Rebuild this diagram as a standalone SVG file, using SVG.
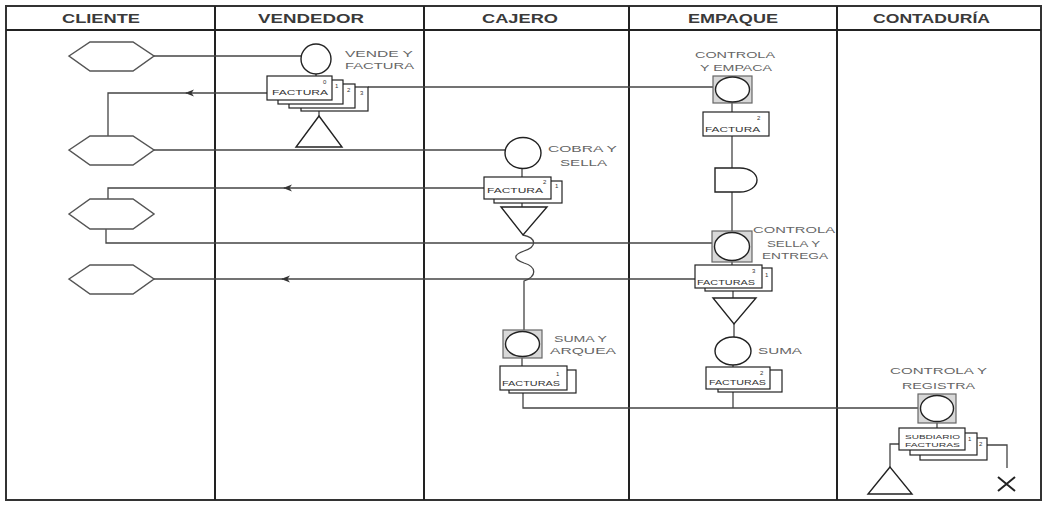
<svg xmlns="http://www.w3.org/2000/svg" width="1044" height="507" viewBox="0 0 1044 507">
<style>
.frame{fill:none;stroke:#333;stroke-width:2}
.lane{fill:none;stroke:#222;stroke-width:2}
.hdr{font-family:"Liberation Sans",Arial,sans-serif;font-weight:bold;font-size:13px;fill:#3a3a3a}
.lbl{font-family:"Liberation Sans",Arial,sans-serif;font-size:9.5px;fill:#666}
.doc{fill:#fff;stroke:#222;stroke-width:1.2}
.dtx{font-family:"Liberation Sans",Arial,sans-serif;font-size:7px;fill:#333}
.num{font-family:"Liberation Sans",Arial,sans-serif;font-size:6px;fill:#333}
.hex{fill:#fff;stroke:#555;stroke-width:1.5}
.shp{fill:#fff;stroke:#222;stroke-width:1.4}
.sq{fill:#d8d8d8;stroke:#666;stroke-width:1.2}
.con{fill:none;stroke:#444;stroke-width:1.3}
</style>
<defs>
<marker id="arr" markerWidth="10" markerHeight="8" refX="8" refY="4" orient="auto" markerUnits="userSpaceOnUse">
<path d="M9,4 L0,0.5 L2.5,4 L0,7.5 Z" fill="#333"/>
</marker>
</defs>
<rect width="1044" height="507" fill="#fff"/>
<g id="frame">
<rect class="frame" x="6" y="6" width="1035" height="494"/>
<line class="lane" x1="6" y1="30" x2="1041" y2="30"/>
<line class="lane" x1="215" y1="6" x2="215" y2="500"/>
<line class="lane" x1="424" y1="6" x2="424" y2="500"/>
<line class="lane" x1="629" y1="6" x2="629" y2="500"/>
<line class="lane" x1="837" y1="6" x2="837" y2="500"/>
<text class="hdr" x="62" y="23" textLength="78" lengthAdjust="spacingAndGlyphs">CLIENTE</text>
<text class="hdr" x="258" y="23" textLength="106" lengthAdjust="spacingAndGlyphs">VENDEDOR</text>
<text class="hdr" x="482" y="23" textLength="76" lengthAdjust="spacingAndGlyphs">CAJERO</text>
<text class="hdr" x="688" y="23" textLength="90" lengthAdjust="spacingAndGlyphs">EMPAQUE</text>
<text class="hdr" x="873" y="23" textLength="117" lengthAdjust="spacingAndGlyphs">CONTADURÍA</text>
</g>
<g id="connectors">
<path class="con" d="M154,56 H301"/>
<path class="con" d="M316,74 V76"/>
<path class="con" d="M267,93 H186" marker-end="url(#arr)"/>
<path class="con" d="M188,93 H108 V136"/>
<path class="con" d="M368,87 H713"/>
<path class="con" d="M319,111 V116"/>
<path class="con" d="M154,150 H505"/>
<path class="con" d="M522,168 V177"/>
<path class="con" d="M484,188 H284" marker-end="url(#arr)"/>
<path class="con" d="M286,188 H108 V199"/>
<path class="con" d="M522,203 V207"/>
<path class="con" d="M523,235 C537,238 537,247 524,251 C513,255 513,259 524,263 C537,267 537,276 524,281 V330"/>
<path class="con" d="M106,229 V243 H712"/>
<path class="con" d="M695,279 H282" marker-end="url(#arr)"/>
<path class="con" d="M284,279 H154"/>
<path class="con" d="M732,103 V112"/>
<path class="con" d="M732,136 V168"/>
<path class="con" d="M732,192 V231"/>
<path class="con" d="M732,262 V265"/>
<path class="con" d="M733,291 V298"/>
<path class="con" d="M734,324 V337"/>
<path class="con" d="M733,365 V367"/>
<path class="con" d="M733,392 V408"/>
<path class="con" d="M522,358 V366"/>
<path class="con" d="M523,393 V408 H918"/>
<path class="con" d="M937,423 V428"/>
<path class="con" d="M899,444 H890 V467"/>
<path class="con" d="M987,445 H1007 V468"/>
</g>
<g id="cliente-1"><polygon class="hex" points="69,56 90,42 133,42 154,56 133,71 90,71"/></g>
<g id="cliente-2"><polygon class="hex" points="69,150 90,136 133,136 154,150 133,165 90,165"/></g>
<g id="cliente-3"><polygon class="hex" points="69,214 90,199 133,199 154,214 133,229 90,229"/></g>
<g id="cliente-4"><polygon class="hex" points="69,279 90,265 133,265 154,279 133,294 90,294"/></g>
<g id="vende-factura">
<circle class="shp" cx="316" cy="59" r="15"/>
<text class="lbl" x="345" y="57" textLength="68" lengthAdjust="spacingAndGlyphs">VENDE Y</text>
<text class="lbl" x="345" y="69" textLength="69" lengthAdjust="spacingAndGlyphs">FACTURA</text>
</g>
<g id="vendedor-facturas">
<rect class="doc" x="301" y="87" width="67" height="24"/>
<rect class="doc" x="289" y="84" width="66" height="24"/>
<rect class="doc" x="278" y="80" width="65" height="24"/>
<rect class="doc" x="267" y="76" width="65" height="24"/>
<text class="num" x="323" y="84">0</text>
<text class="num" x="335" y="88">1</text>
<text class="num" x="347" y="92">2</text>
<text class="num" x="360" y="95">3</text>
<text class="dtx" x="272" y="95" textLength="56" lengthAdjust="spacingAndGlyphs">FACTURA</text>
</g>
<g id="vendedor-archivo"><polygon class="shp" points="319,116 296,147 342,147"/></g>
<g id="cobra-sella">
<ellipse class="shp" cx="523" cy="153" rx="18" ry="15.5"/>
<text class="lbl" x="548" y="152" textLength="69" lengthAdjust="spacingAndGlyphs">COBRA Y</text>
<text class="lbl" x="560" y="166" textLength="47" lengthAdjust="spacingAndGlyphs">SELLA</text>
</g>
<g id="cajero-factura">
<rect class="doc" x="494" y="181" width="68" height="22"/>
<rect class="doc" x="484" y="177" width="67" height="22"/>
<text class="num" x="543" y="184">2</text>
<text class="num" x="555" y="188">1</text>
<text class="dtx" x="487" y="193" textLength="56" lengthAdjust="spacingAndGlyphs">FACTURA</text>
</g>
<g id="cajero-archivo"><polygon class="shp" points="501,207 547,207 523,235"/></g>
<g id="suma-arquea">
<rect class="sq" x="503" y="330" width="39" height="28"/>
<ellipse class="shp" cx="522.5" cy="344" rx="17" ry="12.5"/>
<text class="lbl" x="554" y="342" textLength="53" lengthAdjust="spacingAndGlyphs">SUMA Y</text>
<text class="lbl" x="550" y="354" textLength="66" lengthAdjust="spacingAndGlyphs">ARQUEA</text>
</g>
<g id="cajero-facturas">
<rect class="doc" x="509" y="370" width="67" height="23"/>
<rect class="doc" x="500" y="366" width="67" height="24"/>
<text class="num" x="556" y="376">1</text>
<text class="dtx" x="502" y="386" textLength="58" lengthAdjust="spacingAndGlyphs">FACTURAS</text>
</g>
<g id="controla-empaca">
<text class="lbl" x="695" y="58" textLength="80" lengthAdjust="spacingAndGlyphs">CONTROLA</text>
<text class="lbl" x="700" y="71" textLength="72" lengthAdjust="spacingAndGlyphs">Y EMPACA</text>
<rect class="sq" x="713" y="76" width="39" height="27"/>
<ellipse class="shp" cx="732.5" cy="89.5" rx="17" ry="12.5"/>
</g>
<g id="empaque-factura">
<rect class="doc" x="703" y="112" width="66" height="24"/>
<text class="num" x="757" y="120">2</text>
<text class="dtx" x="705" y="132" textLength="55" lengthAdjust="spacingAndGlyphs">FACTURA</text>
</g>
<g id="empaque-demora"><path class="shp" d="M715,168 H740 A17,12 0 0 1 740,192 H715 Z"/></g>
<g id="controla-sella-entrega">
<rect class="sq" x="712" y="231" width="40" height="31"/>
<ellipse class="shp" cx="732" cy="246.5" rx="17.5" ry="14"/>
<text class="lbl" x="753" y="233" textLength="82" lengthAdjust="spacingAndGlyphs">CONTROLA</text>
<text class="lbl" x="767" y="247" textLength="53" lengthAdjust="spacingAndGlyphs">SELLA Y</text>
<text class="lbl" x="762" y="259" textLength="66" lengthAdjust="spacingAndGlyphs">ENTREGA</text>
</g>
<g id="empaque-facturas-1">
<rect class="doc" x="705" y="268" width="67" height="23"/>
<rect class="doc" x="695" y="265" width="67" height="23"/>
<text class="num" x="752" y="273">3</text>
<text class="num" x="765" y="277">1</text>
<text class="dtx" x="697" y="285" textLength="58" lengthAdjust="spacingAndGlyphs">FACTURAS</text>
</g>
<g id="empaque-archivo"><polygon class="shp" points="713,298 756,298 734,324"/></g>
<g id="suma">
<ellipse class="shp" cx="733" cy="351" rx="18" ry="14"/>
<text class="lbl" x="758" y="354" textLength="44" lengthAdjust="spacingAndGlyphs">SUMA</text>
</g>
<g id="empaque-facturas-2">
<rect class="doc" x="718" y="370" width="64" height="22"/>
<rect class="doc" x="706" y="367" width="64" height="22"/>
<text class="num" x="760" y="375">2</text>
<text class="dtx" x="709" y="385" textLength="57" lengthAdjust="spacingAndGlyphs">FACTURAS</text>
</g>
<g id="controla-registra">
<text class="lbl" x="890" y="374" textLength="97" lengthAdjust="spacingAndGlyphs">CONTROLA Y</text>
<text class="lbl" x="902" y="389" textLength="73" lengthAdjust="spacingAndGlyphs">REGISTRA</text>
<rect class="sq" x="918" y="394" width="38" height="29"/>
<ellipse class="shp" cx="937" cy="408.5" rx="16.5" ry="13"/>
</g>
<g id="subdiario">
<rect class="doc" x="920" y="438" width="67" height="22"/>
<rect class="doc" x="910" y="433" width="67" height="22"/>
<rect class="doc" x="899" y="428" width="66" height="22"/>
<text class="num" x="968" y="441">1</text>
<text class="num" x="979" y="446">2</text>
<text class="num" x="905" y="439" textLength="55" lengthAdjust="spacingAndGlyphs">SUBDIARIO</text>
<text class="num" x="905" y="447" textLength="55" lengthAdjust="spacingAndGlyphs">FACTURAS</text>
</g>
<g id="contaduria-archivo"><polygon class="shp" points="890,467 868,494 912,494"/></g>
<g id="destruccion">
<path d="M998,477 L1015,491 M1015,477 L998,491" stroke="#222" stroke-width="2" fill="none"/>
</g>
</svg>
